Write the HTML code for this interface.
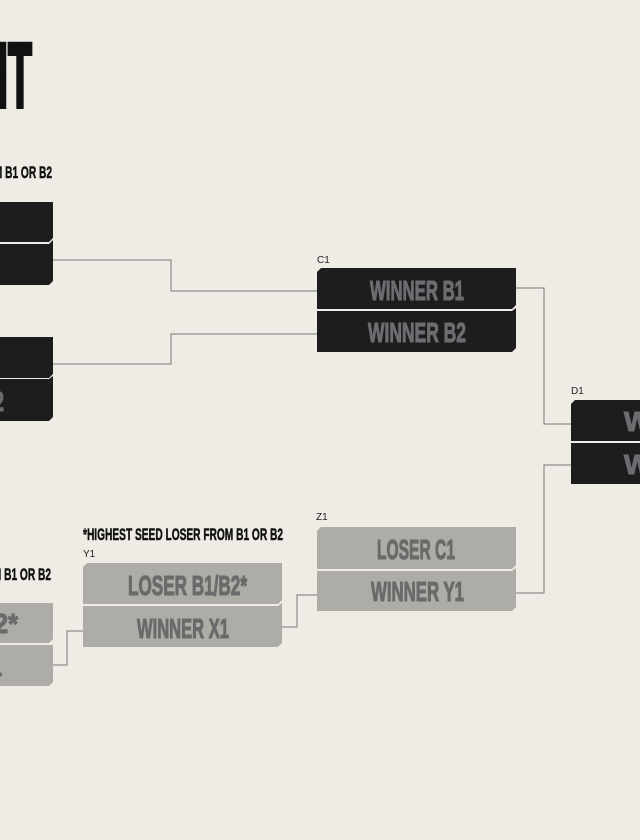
<!DOCTYPE html>
<html><head><meta charset="utf-8"><style>
html,body{margin:0;padding:0;background:#efece6;}
svg{display:block}
.big{font-family:"Liberation Sans Narrow","Liberation Sans",sans-serif;font-weight:bold;}
.t{font-family:"Liberation Sans Narrow","Liberation Sans",sans-serif;font-weight:bold;font-size:28px;stroke-width:1.1px;}
.s{font-family:"Liberation Sans",sans-serif;font-size:10px;fill:#222;}
</style></head><body>
<svg width="640" height="840" viewBox="0 0 640 840" xmlns="http://www.w3.org/2000/svg">
<rect width="640" height="840" fill="#efece6"/>
<text class="big" x="-246" y="107" font-size="92" textLength="278" lengthAdjust="spacingAndGlyphs" fill="#111" stroke="#111" stroke-width="4">TOURNAMENT</text>
<text class="big" x="-148" y="178" font-size="17" textLength="200" lengthAdjust="spacingAndGlyphs" fill="#111" stroke="#111" stroke-width="0.5">*HIGHEST SEED LOSER FROM B1 OR B2</text>
<text class="big" x="-149" y="580" font-size="17" textLength="200" lengthAdjust="spacingAndGlyphs" fill="#111" stroke="#111" stroke-width="0.5">*HIGHEST SEED LOSER FROM B1 OR B2</text>
<text class="big" x="83" y="540" font-size="17" textLength="200" lengthAdjust="spacingAndGlyphs" fill="#111" stroke="#111" stroke-width="0.5">*HIGHEST SEED LOSER FROM B1 OR B2</text>

<g fill="none" stroke="#777" stroke-width="1">
<polyline points="53,260 171,260 171,291 317,291"/>
<polyline points="53,364 171,364 171,334 317,334"/>
<polyline points="516,288 544,288 544,424 571,424"/>
<polyline points="516,593 544,593 544,465 571,465"/>
<polyline points="53,665 67,665 67,631 83,631"/>
<polyline points="282,627 297,627 297,595 317,595"/>
</g>

<g fill="#1e1d1e">
<polygon points="0,202 53,202 53,238 49,242 0,242"/>
<polygon points="0,244 49,244 53,240 53,281 49,285 0,285"/>
<polygon points="0,337 53,337 53,374 49,378 0,378"/>
<polygon points="0,379 49,379 53,376 53,417 49,421 0,421"/>
<polygon points="321,268 516,268 516,305 512,309 317,309 317,272"/>
<polygon points="317,311 512,311 516,308 516,348 512,352 317,352"/>
<polygon points="575,400 640,400 640,441 571,441 571,404"/>
<polygon points="571,443 640,443 640,484 571,484"/>
</g>
<g fill="#aeaca6">
<polygon points="0,603 53,603 53,639 49,643 0,643"/>
<polygon points="0,645 53,645 53,682 49,686 0,686"/>
<polygon points="87,563 282,563 282,600 278,604 83,604 83,567"/>
<polygon points="83,606 278,606 282,603 282,643 278,647 83,647"/>
<polygon points="321,527 516,527 516,565 512,569 317,569 317,531"/>
<polygon points="317,571 512,571 516,568 516,607 512,611 317,611"/>
</g>
<g class="t" fill="#6e6c70" stroke="#6e6c70">
<text x="370" y="300" textLength="94" lengthAdjust="spacingAndGlyphs">WINNER B1</text>
<text x="368" y="342" textLength="98" lengthAdjust="spacingAndGlyphs">WINNER B2</text>
<text x="624" y="431">W</text>
<text x="624" y="474">W</text>
<text x="-6" y="411" textLength="10" lengthAdjust="spacingAndGlyphs">2</text>
</g>
<g class="t" fill="#6b6a6a" stroke="#6b6a6a">
<text x="377" y="559" textLength="78" lengthAdjust="spacingAndGlyphs">LOSER C1</text>
<text x="371" y="601" textLength="93" lengthAdjust="spacingAndGlyphs">WINNER Y1</text>
<text x="128" y="595" textLength="119" lengthAdjust="spacingAndGlyphs">LOSER B1/B2*</text>
<text x="137" y="638" textLength="92" lengthAdjust="spacingAndGlyphs">WINNER X1</text>
<text x="-6" y="633" textLength="24" lengthAdjust="spacingAndGlyphs">2*</text>
<text x="-7" y="676" textLength="9" lengthAdjust="spacingAndGlyphs">1</text>
</g>
<text class="s" x="317" y="263">C1</text>
<text class="s" x="571" y="394">D1</text>
<text class="s" x="83" y="557">Y1</text>
<text class="s" x="316" y="520">Z1</text>
</svg>
</body></html>
